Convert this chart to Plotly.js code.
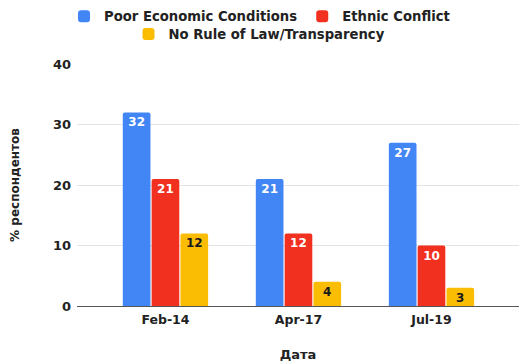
<!DOCTYPE html>
<html>
<head>
<meta charset="utf-8">
<script src="https://cdn.plot.ly/plotly-3.0.1.min.js"></script>
<style>html,body{margin:0;padding:0;background:#fff;}#chart{width:519px;height:363px;}</style>
</head>
<body>
<div id="chart"></div>
<script>
var categories = ['Feb-14', 'Apr-17', 'Jul-19'];
var seriesNames = ['Poor Economic Conditions', 'Ethnic Conflict', 'No Rule of Law/Transparency'];
var poorEconomic = [32, 21, 27];
var ethnicConflict = [21, 12, 10];
var noRuleOfLaw = [12, 4, 3];
var yTicks = [0, 10, 20, 30, 40];

var FONT = 'DejaVu Sans, Verdana, sans-serif';
var colors = ['#4285f4', '#f2301f', '#fbbc04'];
var textColors = ['#ffffff', '#ffffff', '#1a1a1a'];
var values = [poorEconomic, ethnicConflict, noRuleOfLaw];
var legends = ['legend', 'legend', 'legend2'];

var traces = values.map(function (v, i) {
  return {
    type: 'bar',
    name: seriesNames[i],
    x: categories,
    y: v,
    text: v.map(String),
    textposition: 'inside',
    insidetextanchor: 'end',
    constraintext: 'none',
    textangle: 0,
    textfont: {family: FONT, size: 12, color: textColors[i], weight: 'bold'},
    marker: {color: colors[i], cornerradius: 2, line: {width: 0}},
    legend: legends[i],
    hoverinfo: 'skip'
  };
});

var legendCommon = {
  orientation: 'h',
  x: 0.5, xanchor: 'center', xref: 'container', yref: 'container', yanchor: 'top',
  font: {family: FONT, size: 13.2, color: '#222222', weight: 'bold'},
  bgcolor: 'rgba(0,0,0,0)', itemclick: false, itemdoubleclick: false
};

var layout = {
  width: 519, height: 363,
  margin: {l: 77, r: 0, t: 64, b: 57},
  paper_bgcolor: '#ffffff', plot_bgcolor: '#ffffff',
  barmode: 'group', bargap: 0.35, bargroupgap: 0.04,
  font: {family: FONT, color: '#222222'},
  showlegend: true,
  legend: Object.assign({}, legendCommon, {y: 0.997}),
  legend2: Object.assign({}, legendCommon, {y: 0.948}),
  xaxis: {
    type: 'category', range: [-0.665, 2.658],
    showgrid: false, zeroline: false, showline: false, ticks: '',
    tickfont: {family: FONT, size: 12.5, color: '#222222', weight: 'bold'},
    ticklabelstandoff: 4,
    title: {text: 'Дата', font: {family: FONT, size: 13, color: '#222222', weight: 'bold'}, standoff: 24},
    fixedrange: true
  },
  yaxis: {
    range: [0, 40], tickvals: yTicks, ticktext: yTicks.map(String),
    showgrid: true, gridcolor: '#e3e3e3', gridwidth: 1,
    zeroline: true, zerolinecolor: '#555555', zerolinewidth: 1,
    showline: false, ticks: '',
    tickfont: {family: FONT, size: 13, color: '#222222', weight: 'bold'},
    ticklabelstandoff: 5,
    title: {text: '% респондентов', font: {family: FONT, size: 12, color: '#222222', weight: 'bold'}, standoff: 30},
    fixedrange: true
  }
};

Plotly.newPlot('chart', traces, layout, {displayModeBar: false, staticPlot: true});
</script>
</body>
</html>
